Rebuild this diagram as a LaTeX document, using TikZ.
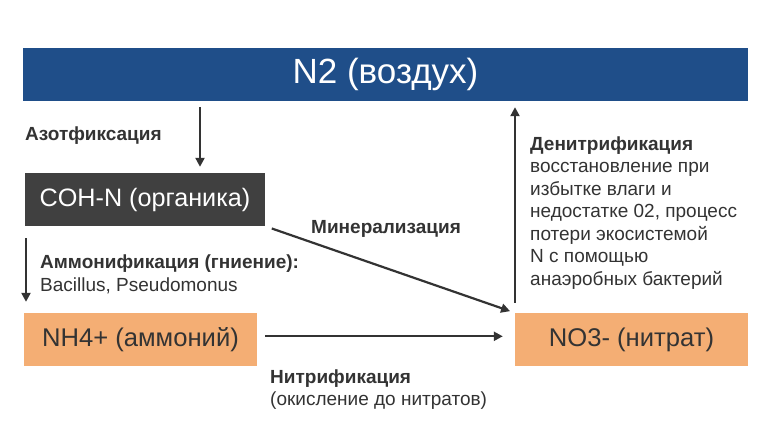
\documentclass[tikz,border=0pt]{standalone}
\usepackage{fontspec}
\setmainfont{Liberation Sans}
\usetikzlibrary{arrows.meta}
\definecolor{navy}{HTML}{1F4E89}
\definecolor{darkbox}{HTML}{404040}
\definecolor{orangebox}{HTML}{F4AE74}
\definecolor{txt}{HTML}{333333}
\definecolor{arrc}{HTML}{333333}
\tikzset{
  box/.style={rectangle, inner sep=0pt, minimum height=53pt, anchor=center},
  bigtxt/.style={font=\fontsize{25.6}{30}\selectfont},
  lbl/.style={inner sep=0pt, anchor=base west, text=txt, align=left, font=\fontsize{19}{22.5}\selectfont},
  arr/.style={draw=arrc, line width=2.2pt, -{Triangle[length=9pt,width=9pt]}},
}
\begin{document}
\begin{tikzpicture}[x=1pt,y=-1pt]
\useasboundingbox (0,0) rectangle (772,434);
\fill[white] (0,0) rectangle (772,434);
\node[box, fill=navy, minimum width=725pt, text=white, font=\fontsize{35}{40}\selectfont] (n2) at (385.5,74.5) {N2 (воздух)};
\node[box, fill=darkbox, minimum width=240pt, text=white, font=\fontsize{25.2}{30}\selectfont] (coh) at (145,199.5) {COH-N (органика)};
\node[box, fill=orangebox, minimum width=233pt, text=txt, bigtxt] (nh4) at (140.5,339.5) {NH4+ (аммоний)};
\node[box, fill=orangebox, minimum width=233pt, text=txt, bigtxt] (no3) at (631.5,339.5) {NO3- (нитрат)};
\coordinate (ax) at (200,0);
\coordinate (bx) at (26,0);
\coordinate (dx) at (515,0);
\draw[arr, shorten <=6pt, shorten >=6pt] (ax |- n2.south) -- (ax |- coh.north);
\draw[arr, shorten <=12pt, shorten >=11pt] (bx |- coh.south) -- (bx |- nh4.north);
\draw[arr, shorten <=7pt, shorten >=5pt] (coh.south east) -- (no3.north west);
\draw[arr, shorten <=8pt, shorten >=12pt] ([yshift=3.2pt]nh4.east) -- ([yshift=3.2pt]no3.west);
\draw[arr, shorten <=10pt, shorten >=6pt] (dx |- no3.north) -- (dx |- n2.south);
\node[lbl, font=\fontsize{19}{22.5}\bfseries] (lazot) at (25,140) {Азотфиксация};
\node[lbl, font=\fontsize{19}{22.5}\bfseries] (lmin) at (311,233) {Минерализация};
\node[lbl] (lamm) at (40,291) {\textbf{Аммонификация (гниение):}\\Bacillus, Pseudomonus};
\node[lbl] (lnit) at (270,405.5) {\textbf{Нитрификация}\\(окисление до нитратов)};
\node[lbl] (lden) at (530,285) {\textbf{Денитрификация}\\восстановление при\\избытке влаги и\\недостатке 02, процесс\\потери экосистемой\\N с помощью\\анаэробных бактерий};
\end{tikzpicture}
\end{document}
